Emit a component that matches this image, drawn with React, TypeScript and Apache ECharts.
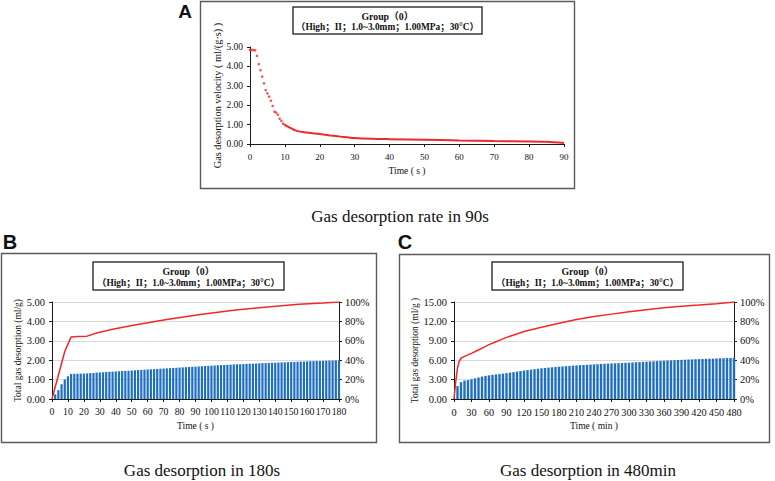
import React, { useEffect, useRef } from "react";
import * as echarts from "echarts";

// ---------- Panel A : gas desorption velocity in 90 s ----------
const A_DOT_T = [0, 0.5, 1, 1.5, 2, 2.5, 3, 3.5, 4, 4.5, 5, 5.5, 6, 6.5, 7, 7.5, 8, 8.5, 9, 9.5, 10];
const A_DOT_V = [4.85, 4.85, 4.84, 4.83, 4.54, 4.12, 3.81, 3.47, 3.13, 2.78, 2.61, 2.44, 2.23, 1.96, 1.67, 1.62, 1.51, 1.31, 1.19, 1.05, 0.98];
const A_TAIL_T = [10, 11, 12, 13, 14, 15, 17, 20, 23, 26, 30, 35, 40, 50, 60, 70, 80, 85, 90];
const A_TAIL_V = [0.98, 0.88, 0.79, 0.7, 0.65, 0.62, 0.58, 0.51, 0.44, 0.38, 0.31, 0.27, 0.25, 0.22, 0.18, 0.15, 0.13, 0.11, 0.05];

// ---------- Panel B : total gas desorption in 180 s (bar every 2 s) ----------
const B_STEP = 2;
const B_BARS = [
  0.24, 0.46, 0.76, 1.0, 1.17, 1.29, 1.3, 1.3, 1.31, 1.31,
  1.32, 1.33, 1.34, 1.36, 1.37, 1.38, 1.39, 1.4, 1.41, 1.42,
  1.43, 1.44, 1.45, 1.46, 1.47, 1.48, 1.49, 1.5, 1.51, 1.52,
  1.53, 1.54, 1.55, 1.56, 1.57, 1.58, 1.59, 1.6, 1.61, 1.62,
  1.63, 1.64, 1.65, 1.66, 1.67, 1.68, 1.69, 1.7, 1.71, 1.72,
  1.73, 1.74, 1.75, 1.75, 1.76, 1.77, 1.78, 1.79, 1.79, 1.8,
  1.81, 1.82, 1.82, 1.83, 1.84, 1.85, 1.85, 1.86, 1.87, 1.87,
  1.88, 1.89, 1.89, 1.9, 1.91, 1.91, 1.92, 1.93, 1.93, 1.94,
  1.95, 1.95, 1.96, 1.96, 1.97, 1.97, 1.98, 1.98, 1.99, 2.0,
];
const B_LINE_T = [0, 8, 12, 16, 22, 28, 38, 51, 72, 93, 114, 135, 155, 170, 180];
const B_LINE_P = [0, 49, 64, 64.4, 64.8, 68, 72, 76, 82, 87, 91.4, 94.9, 97.6, 98.9, 100];

// ---------- Panel C : total gas desorption in 480 min (bar every 6 min) ----------
const C_STEP = 6;
const C_BARS = [
  2.0, 2.6, 2.85, 2.92, 3.05, 3.2, 3.33, 3.47, 3.57, 3.66,
  3.74, 3.8, 3.86, 3.93, 4.0, 4.08, 4.16, 4.24, 4.32, 4.4,
  4.47, 4.54, 4.61, 4.68, 4.75, 4.8, 4.85, 4.9, 4.95, 5.0,
  5.04, 5.08, 5.12, 5.16, 5.2, 5.23, 5.26, 5.29, 5.32, 5.35,
  5.38, 5.41, 5.44, 5.47, 5.5, 5.52, 5.54, 5.57, 5.6, 5.62,
  5.65, 5.68, 5.71, 5.74, 5.77, 5.8, 5.83, 5.86, 5.89, 5.92,
  5.95, 5.98, 6.0, 6.03, 6.05, 6.08, 6.1, 6.12, 6.15, 6.17,
  6.19, 6.21, 6.23, 6.25, 6.27, 6.29, 6.31, 6.33, 6.34, 6.36,
];
const C_LINE_T = [0, 3, 6, 9, 12, 18, 24, 30, 40, 50, 60, 70, 80, 90, 100, 120, 150, 180, 210, 240, 270, 300, 330, 360, 390, 420, 450, 480];
const C_LINE_P = [0, 18, 32, 39, 42, 44, 45.5, 47, 50, 53, 56, 58.5, 61, 63.5, 65.5, 69.5, 74, 78, 82, 85, 87.5, 90, 92, 94, 95.5, 96.8, 98.3, 100];

// ---------- texts ----------
const TITLE_1 = "Group（0）";
const TITLE_2 = "（High；II；1.0~3.0mm；1.00MPa；30°C）";
const CAPTION_A = "Gas desorption rate in 90s";
const CAPTION_B = "Gas desorption in 180s";
const CAPTION_C = "Gas desorption in 480min";

const SERIF = '"Liberation Serif", "Times New Roman", "Noto Sans CJK SC", serif';
const SANS = '"Liberation Sans", Arial, sans-serif';
const RED = "#f02828";
const BLUE = "#1f6fc0";
const INK = "#1a1a1a";

const zip = (xs: number[], ys: number[]) => xs.map((x, i) => [x, ys[i]]);

const axisLine = { show: true, lineStyle: { color: INK, width: 1 } };
const axisTick = { show: true, length: 3, lineStyle: { color: INK, width: 1 } };
const label = (size: number, extra: any = {}) => ({ fontFamily: SERIF, fontSize: size, color: "#111", margin: 8, ...extra });
const nameStyle = (size: number) => ({ fontFamily: SERIF, fontSize: size, color: "#111" });

function xAxis(gridIndex: number, max: number, interval: number, name: string, size: number) {
  return {
    type: "value",
    gridIndex,
    min: 0,
    max,
    interval,
    name,
    nameLocation: "middle",
    nameGap: 22,
    nameTextStyle: nameStyle(9.5),
    axisLine,
    axisTick,
    axisLabel: label(size, { hideOverlap: false }),
    splitLine: { show: false },
  };
}

function leftAxis(gridIndex: number, max: number, interval: number, name: string, gap: number, split: boolean, size: number, nameSize: number) {
  return {
    type: "value",
    gridIndex,
    position: "left",
    min: 0,
    max,
    interval,
    name,
    nameLocation: "middle",
    nameGap: gap,
    nameTextStyle: nameStyle(nameSize),
    axisLine,
    axisTick,
    axisLabel: label(size, { margin: 7, formatter: (v: number) => v.toFixed(2) }),
    splitLine: split ? { show: true, lineStyle: { color: "#d9d9d9", width: 1 } } : { show: false },
  };
}

function rightAxis(gridIndex: number) {
  return {
    type: "value",
    gridIndex,
    position: "right",
    min: 0,
    max: 100,
    interval: 20,
    axisLine,
    axisTick,
    axisLabel: label(10.5, { margin: 6, formatter: "{value}%" }),
    splitLine: { show: false },
  };
}

function frame(x: number, y: number, w: number, h: number) {
  return {
    type: "rect",
    shape: { x, y, width: w, height: h },
    style: { fill: "none", stroke: "#5a5a5a", lineWidth: 1.4 },
    silent: true,
  };
}

function titleBox(x: number, y: number, w: number, h: number) {
  const cx = x + w / 2;
  return [
    {
      type: "rect",
      shape: { x, y, width: w, height: h },
      style: { fill: "#fff", stroke: "#3a3a3a", lineWidth: 1.5 },
      silent: true,
    },
    {
      type: "text",
      x: cx,
      y: y + h * 0.35,
      style: { text: TITLE_1, fontFamily: SERIF, fontSize: 9.8, fontWeight: "bold", fill: "#111", align: "center", verticalAlign: "middle" },
      silent: true,
    },
    {
      type: "text",
      x: cx,
      y: y + h * 0.74,
      style: { text: TITLE_2, fontFamily: SERIF, fontSize: 9.4, fontWeight: "bold", fill: "#111", align: "center", verticalAlign: "middle" },
      silent: true,
    },
  ];
}

function textAt(x: number, y: number, text: string, font: string, size: number, weight = "normal") {
  return {
    type: "text",
    x,
    y,
    style: { text, fontFamily: font, fontSize: size, fontWeight: weight, fill: "#111", align: "center", verticalAlign: "middle" },
    silent: true,
  };
}

export default function App() {
  const ref = useRef<HTMLDivElement>(null);

  useEffect(() => {
    if (!ref.current) return;
    const chart = echarts.init(ref.current, undefined, { renderer: "svg" });

    const bTimes = B_BARS.map((_, i) => (i + 1) * B_STEP);
    const cTimes = C_BARS.map((_, i) => (i + 1) * C_STEP);

    const option: any = {
      animation: false,
      backgroundColor: "#ffffff",
      grid: [
        { left: 250, top: 47, width: 314, height: 97 },
        { left: 52, top: 302, width: 287, height: 97 },
        { left: 454, top: 302, width: 280, height: 97 },
      ],
      xAxis: [
        xAxis(0, 90, 10, "Time ( s )", 9),
        xAxis(1, 180, 10, "Time ( s )", 9.8),
        xAxis(2, 480, 30, "Time ( min )", 10.3),
      ],
      yAxis: [
        leftAxis(0, 5, 1, "Gas desorption velocity ( ml/(g·s) )", 26, false, 9.5, 10.3),
        leftAxis(1, 5, 1, "Total gas desorption (ml/g)", 29, true, 10.5, 9.5),
        rightAxis(1),
        leftAxis(2, 15, 3, "Total gas desorption (ml/g )", 32, true, 10.5, 9.5),
        rightAxis(2),
      ],
      series: [
        {
          type: "scatter",
          xAxisIndex: 0,
          yAxisIndex: 0,
          data: zip(A_DOT_T, A_DOT_V),
          symbolSize: 2.6,
          itemStyle: { color: RED },
        },
        {
          type: "line",
          xAxisIndex: 0,
          yAxisIndex: 0,
          data: zip(A_TAIL_T, A_TAIL_V),
          showSymbol: false,
          smooth: 0.3,
          lineStyle: { color: RED, width: 2 },
        },
        {
          type: "bar",
          xAxisIndex: 1,
          yAxisIndex: 1,
          data: zip(bTimes, B_BARS),
          barWidth: 2.2,
          itemStyle: { color: BLUE },
        },
        {
          type: "line",
          xAxisIndex: 1,
          yAxisIndex: 2,
          data: zip(B_LINE_T, B_LINE_P),
          showSymbol: false,
          lineStyle: { color: RED, width: 1.5 },
          z: 5,
        },
        {
          type: "bar",
          xAxisIndex: 2,
          yAxisIndex: 3,
          data: zip(cTimes, C_BARS),
          barWidth: 2.4,
          itemStyle: { color: BLUE },
        },
        {
          type: "line",
          xAxisIndex: 2,
          yAxisIndex: 4,
          data: zip(C_LINE_T, C_LINE_P),
          showSymbol: false,
          lineStyle: { color: RED, width: 1.5 },
          z: 5,
        },
      ],
      graphic: [
        frame(200.5, 1.5, 374, 187),
        frame(1.5, 253.5, 375, 189),
        frame(399.5, 254.5, 370, 188),
        ...titleBox(293, 7, 189, 27),
        ...titleBox(93, 262, 191, 28),
        ...titleBox(492, 262, 191, 28),
        textAt(185, 11, "A", SANS, 19, "bold"),
        textAt(10, 242, "B", SANS, 20, "bold"),
        textAt(405, 242, "C", SANS, 20, "bold"),
        textAt(400, 216, CAPTION_A, SERIF, 17),
        textAt(202, 470, CAPTION_B, SERIF, 17),
        textAt(588, 470, CAPTION_C, SERIF, 17),
      ],
    };

    chart.setOption(option);
    return () => chart.dispose();
  }, []);

  return (
    <div
      ref={ref}
      style={{ position: "fixed", left: 0, top: 0, width: 775, height: 481, background: "#fff" }}
    />
  );
}
